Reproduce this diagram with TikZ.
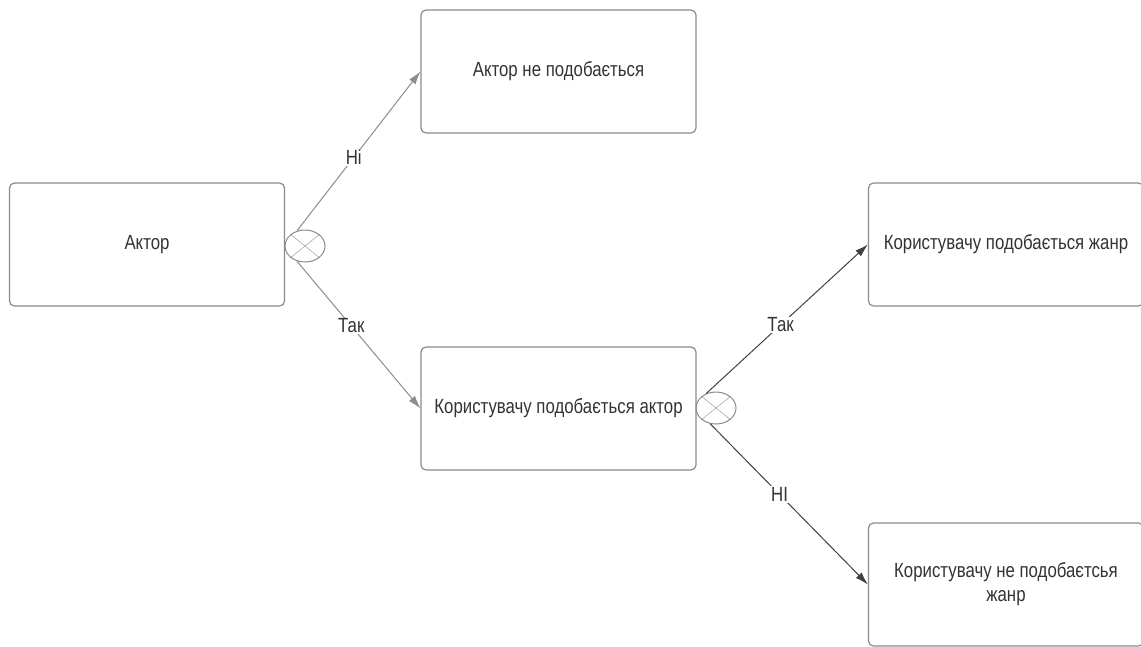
\documentclass[tikz,border=0pt]{standalone}
\usepackage{fontspec}
\setmainfont{Liberation Sans}
\newfontfamily\narrowsf{Liberation Sans}[FakeStretch=0.82]
\usepackage{tikz}
\usetikzlibrary{arrows.meta,shapes.geometric}
\definecolor{boxgray}{HTML}{8A8A8A}
\definecolor{txtgray}{HTML}{333333}
\definecolor{linegray}{HTML}{8C8C8C}
\definecolor{linedark}{HTML}{404040}
\tikzset{
  % rounded task box
  task/.style  = {rectangle, rounded corners=5pt, draw=boxgray, line width=1.2pt,
                  minimum width=275pt, minimum height=123pt, align=center,
                  text=txtgray, font=\narrowsf\fontsize{20.5}{24}\selectfont},
  % exclusive gateway with a cross
  gate/.style  = {ellipse, draw=boxgray, line width=1pt, minimum width=40pt,
                  minimum height=32pt, inner sep=0pt},
  flow/.style  = {-{Latex[length=13pt,width=8pt]}, line width=1pt, linegray},
  flowd/.style = {-{Latex[length=13pt,width=8pt]}, line width=1pt, linedark},
  lbl/.style   = {fill=white, inner sep=1pt, text=txtgray,
                  font=\narrowsf\fontsize{20.5}{24}\selectfont},
}

\begin{document}
\begin{tikzpicture}[x=1pt,y=-1pt]
\useasboundingbox (0,0) rectangle (1141,646);

% ---- boxes ----------------------------------------------------------
\node[task] (actor)    at (147,244.5)    {Актор};
\node[task] (dislike)  at (558.5,71.5)   {Актор не подобається};
\node[task] (likeact)  at (558.5,408.5)  {Користувачу подобається актор};
\node[task] (likegen)  at (1006,244.5)   {Користувачу подобається жанр};
\node[task] (nogen)    at (1006,584.5)   {Користувачу не подобаєтсья\\жанр};

% ---- gateways -------------------------------------------------------
\node[gate] (g1) at (305,246) {};
\draw[boxgray] (g1.north west) -- (g1.south east) (g1.north east) -- (g1.south west);
\node[gate] (g2) at (716,408) {};
\draw[boxgray] (g2.north west) -- (g2.south east) (g2.north east) -- (g2.south west);

% ---- flows ----------------------------------------------------------
\draw[flow]  (g1.118) -- (dislike.west) node[lbl, pos=0.46] {Ні};
\draw[flow]  (g1.242) -- (likeact.west) node[lbl, pos=0.44] {Так};
\draw[flowd] (g2.124) -- (likegen.west) node[lbl, pos=0.46] {Так};
\draw[flowd] (g2.250) -- (nogen.west)   node[lbl, pos=0.44] {НІ};
\end{tikzpicture}
\end{document}
